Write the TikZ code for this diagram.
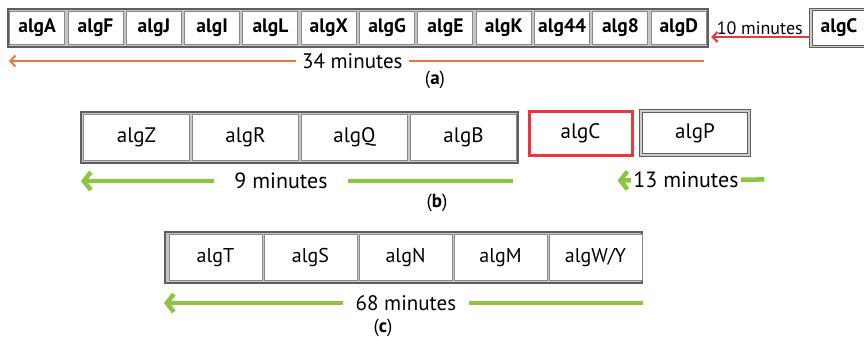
\documentclass[tikz,border=0pt]{standalone}
\usepackage{fontspec}
\setmainfont{PT Sans}
\usetikzlibrary{arrows.meta}
\definecolor{arrorange}{HTML}{E8773A}
\definecolor{arrred}{HTML}{E8383D}
\definecolor{arrgreen}{HTML}{8CC63F}
\definecolor{frameg}{HTML}{5E5E5E}
\definecolor{cellg}{HTML}{8A8A8A}
\begin{document}
\begin{tikzpicture}[x=1pt,y=-1pt,
  frame/.style={draw=frameg, line width=2pt, fill=gray!45, inner sep=0pt},
  cellbase/.style={draw=cellg, line width=1pt, fill=white, inner sep=0pt},
  cellA/.style={cellbase, minimum width=55pt, minimum height=33pt, font=\fontsize{19.5}{19.5}\selectfont\bfseries},
  cellB/.style={cellbase, minimum width=106pt, minimum height=46pt, font=\fontsize{21}{21}\selectfont},
  cellC/.style={cellbase, minimum width=93pt, minimum height=46pt, font=\fontsize{20}{20}\selectfont},
  dblbox/.style={draw=frameg, line width=0.9pt, double=gray!40, double distance=1.3pt, fill=white, inner sep=0pt},
  mins/.style={fill=white, inner ysep=1pt, font=\fontsize{21}{21}\selectfont},
  orangearr/.style={draw=arrorange, line width=2pt, -{Straight Barb[length=5pt,width=11pt]}},
  redarr/.style={draw=arrred, line width=2.2pt, -{Straight Barb[length=5pt,width=10pt]}},
  greenarr/.style={draw=arrgreen, line width=4.5pt, -{Straight Barb[length=7pt,width=18pt]}},
  sublabel/.style={font=\fontsize{19}{19}\selectfont}
]
\useasboundingbox (0,0) rectangle (864,337);

% ---------- row (a)
\node[frame, minimum width=700pt, minimum height=38pt] (frameA) at (358,28) {};
\foreach \n [count=\i from 0] in {algA,algF,algJ,algI,algL,algX,algG,algE,algK,alg44,alg8,algD}
  \node[cellA] (a\i) at ({37.17+58.33*\i},28) {\n};
\node[dblbox, minimum width=56pt, minimum height=37pt, font=\fontsize{19.5}{19.5}\selectfont\bfseries] (aC) at (839,28) {algC};
\draw[redarr] ([xshift=-2pt,yshift=-9pt]aC.west) -- node[midway, above=0pt, inner sep=1pt, font=\fontsize{18}{18}\selectfont]{10 minutes} ([xshift=2pt,yshift=-9pt]frameA.east);
\draw[orangearr] ([xshift=-5pt,yshift=-13pt]frameA.south east) -- node[mins, pos=0.506, inner xsep=6pt]{34 minutes} ([xshift=2pt,yshift=-13pt]frameA.south west);
\node[sublabel] (la) at (435,80) {(\textbf{a})};

% ---------- row (b)
\node[frame, minimum width=437pt, minimum height=51pt] (frameB) at (299.5,137.5) {};
\foreach \n [count=\i from 0] in {algZ,algR,algQ,algB}
  \node[cellB] (b\i) at ({136.5+109*\i},137.5) {\n};
\node[draw=arrred, line width=3pt, fill=white, minimum width=103pt, minimum height=44pt, inner sep=0pt, font=\fontsize{21}{21}\selectfont] (bC) at (580.5,133) {algC};
\node[dblbox, minimum width=108pt, minimum height=44pt, font=\fontsize{21}{21}\selectfont] (bP) at (695,133) {algP};
\draw[greenarr] ([xshift=-6pt,yshift=-17pt]frameB.south east) -- node[mins, pos=0.537, inner xsep=20pt, font=\fontsize{22}{22}\selectfont]{9 minutes} ([xshift=1pt,yshift=-17pt]frameB.south west);
\draw[greenarr] ([xshift=15pt,yshift=-24pt]bP.south east) -- node[mins, pos=0.534, inner xsep=2pt, font=\fontsize{22}{22}\selectfont]{13 minutes} ([xshift=-16pt,yshift=-24pt]bC.south east);
\node[sublabel] (lb) at (437,203) {(\textbf{b})};

% ---------- row (c)
\node[frame, minimum width=477pt, minimum height=51pt] (frameC) at (403.5,257.5) {};
\foreach \n [count=\i from 0] in {algT,algS,algN,algM,algW/Y}
  \node[cellC] (c\i) at ({215.5+95*\i},257.5) {\n};
\draw[greenarr] ([yshift=-19pt]frameC.south east) -- node[mins, pos=0.495, inner xsep=13pt]{68 minutes} ([yshift=-19pt]frameC.south west);
\node[sublabel] (lc) at (383,328) {(\textbf{c})};
\end{tikzpicture}
\end{document}
